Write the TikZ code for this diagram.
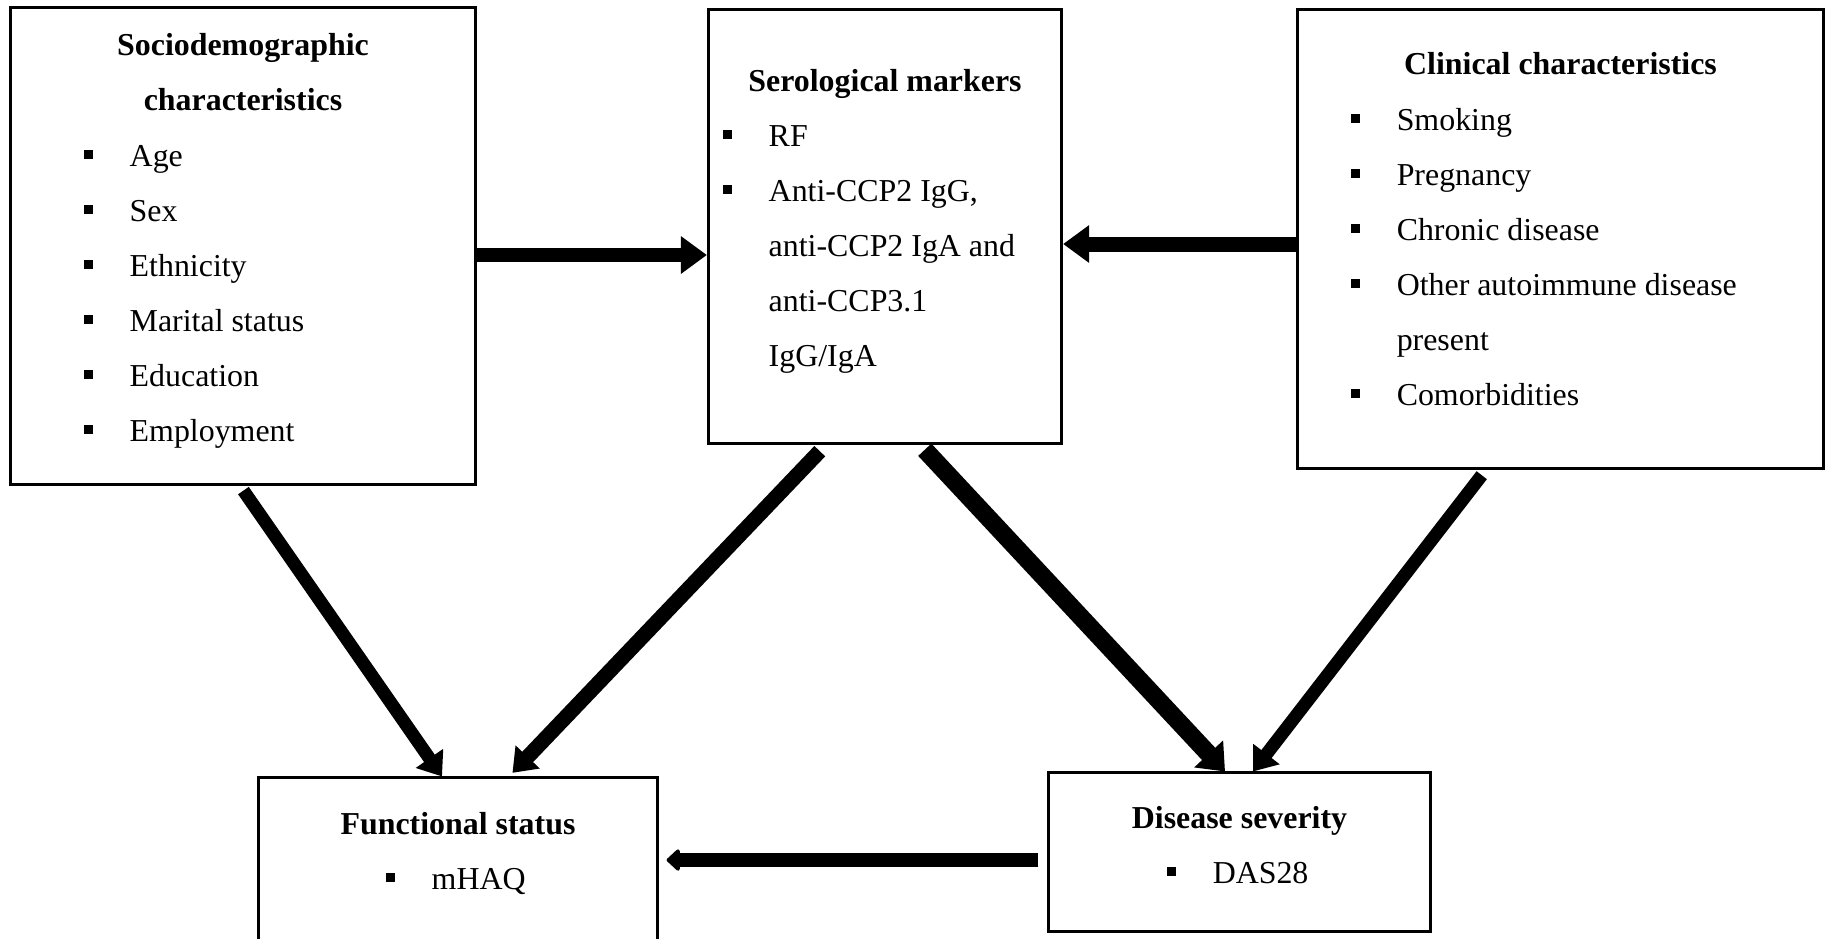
\documentclass[tikz,border=0pt]{standalone}
\usepackage{fontspec}
\setmainfont{Liberation Serif}
\usetikzlibrary{arrows.meta}
\newcommand\bitem{\makebox[0.46cm][l]{\rule[0.07cm]{0.09cm}{0.09cm}}}
\newcommand\bcont{\hspace*{0.46cm}}
\begin{document}
\begin{tikzpicture}[x=0.01cm,y=-0.01cm,
  box/.style={draw, line width=0.03cm, rectangle, inner sep=0pt},
  ttl/.style={anchor=base, inner sep=0pt, font=\fontsize{9.07pt}{11pt}\selectfont\bfseries},
  itm/.style={anchor=base west, inner sep=0pt, font=\fontsize{9.07pt}{11pt}\selectfont},
  conn/.style={line width=#1},
  bighead/.style={-{Triangle[length=0.26cm,width=0.36cm]}},
  diaghead/.style={-{Triangle[length=0.22cm,width=0.32cm]}},
  smallhead/.style={-{Triangle[length=0.14cm,width=0.25cm,round]}},
]
\useasboundingbox (0,0) rectangle (1831,938);
\fill[white] (0,0) rectangle (1831,938);

% boxes
\node[box, minimum width=4.64cm, minimum height=4.76cm] (soc) at (243,246) {};
\node[box, minimum width=3.53cm, minimum height=4.33cm] (ser) at (885,226.5) {};
\node[box, minimum width=5.25cm, minimum height=4.585cm] (cli) at (1560.5,238.75) {};
\node[box, minimum width=3.98cm, minimum height=1.72cm] (fun) at (458,864) {};
\node[box, minimum width=3.81cm, minimum height=1.58cm] (dis) at (1239.5,852) {};

% Sociodemographic
\node[ttl] (soct1) at (243,55) {Sociodemographic};
\node[ttl] (soct2) at (243,110) {characteristics};
\foreach \t [count=\i from 0] in {Age,Sex,Ethnicity,Marital status,Education,Employment}
  \node[itm] (soc\i) at (83,166+55*\i) {\bitem\t};

% Serological
\node[ttl] (sert) at (885,91) {Serological markers};
\node[itm] (ser1) at (722,146) {\bitem RF};
\node[itm] (ser2) at (722,201) {\bitem Anti-CCP2 IgG,};
\node[itm] (ser3) at (722,256) {\bcont anti-CCP2 IgA and};
\node[itm] (ser4) at (722,311) {\bcont anti-CCP3.1};
\node[itm] (ser5) at (722,366) {\bcont IgG/IgA};

% Clinical
\node[ttl] (clit) at (1560.5,74) {Clinical characteristics};
\node[itm] (cli1) at (1350,130) {\bitem Smoking};
\node[itm] (cli2) at (1350,185) {\bitem Pregnancy};
\node[itm] (cli3) at (1350,240) {\bitem Chronic disease};
\node[itm] (cli4) at (1350,295) {\bitem Other autoimmune disease};
\node[itm] (cli5) at (1350,350) {\bcont present};
\node[itm] (cli6) at (1350,405) {\bitem Comorbidities};

% Functional status
\node[ttl] (funt) at (458,834) {Functional status};
\node[itm] (fun1) at (385,889) {\bitem mHAQ};

% Disease severity
\node[ttl] (dist) at (1239.5,828) {Disease severity};
\node[itm] (dis1) at (1166,883) {\bitem DAS28};

% connectors
\draw[conn=0.14cm, bighead] (soc.east |- 0,255) -- (ser.west |- 0,255);
\draw[conn=0.15cm, bighead] (cli.west |- 0,244) -- (ser.east |- 0,244);
\draw[conn=0.14cm, smallhead, shorten <=0.09cm, shorten >=0.08cm] (dis.west |- 0,860) -- (fun.east |- 0,860);
\draw[conn=0.13cm, diaghead, shorten <=0.06cm] (soc.south -| 240,0) -- (fun.north -| 442,0);
\draw[conn=0.15cm, diaghead, shorten <=0.09cm, shorten >=0.05cm] (ser.south -| 826,0) -- (fun.north -| 509,0);
\draw[conn=0.18cm, -{Triangle[length=0.24cm,width=0.38cm]}, shorten <=0.07cm] (ser.south -| 920,0) -- (dis.north -| 1225,0);
\draw[conn=0.13cm, diaghead, shorten <=0.07cm] (cli.south -| 1486,0) -- (dis.north -| 1253,0);
\end{tikzpicture}
\end{document}
